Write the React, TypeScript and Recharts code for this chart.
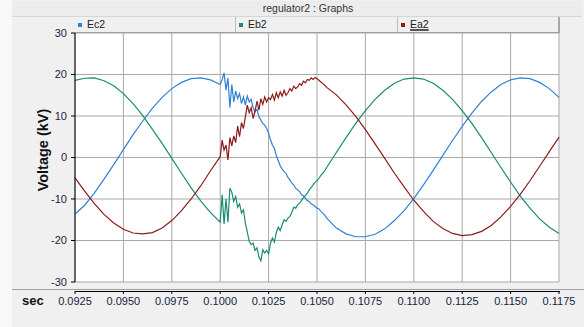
import { CartesianGrid, Line, LineChart, XAxis, YAxis } from 'recharts';

// sample times in seconds: 0.5 ms steps around the fault, 0.1 ms steps through it
const time = [
  0.0925, 0.093, 0.0935, 0.094, 0.0945, 0.095, 0.0955, 0.096, 0.0965, 0.097, 0.0975, 0.098, 0.0985, 0.099, 0.0995,
  0.1, 0.1001, 0.1002, 0.1003, 0.1004, 0.1005, 0.1006, 0.1007, 0.1008, 0.1009,
  0.101, 0.1011, 0.1012, 0.1013, 0.1014, 0.1015, 0.1016, 0.1017, 0.1018, 0.1019,
  0.102, 0.1021, 0.1022, 0.1023, 0.1024, 0.1025, 0.1026, 0.1027, 0.1028, 0.1029,
  0.103, 0.1031, 0.1032, 0.1033, 0.1034, 0.1035, 0.1036, 0.1037, 0.1038, 0.1039,
  0.104, 0.1041, 0.1042, 0.1043, 0.1044, 0.1045, 0.1046, 0.1047, 0.1048, 0.1049,
  0.105, 0.1051, 0.1052, 0.1053, 0.1054,
  0.1055, 0.106, 0.1065, 0.107, 0.1075, 0.108, 0.1085, 0.109, 0.1095, 0.11, 0.1105, 0.111, 0.1115,
  0.112, 0.1125, 0.113, 0.1135, 0.114, 0.1145, 0.115, 0.1155, 0.116, 0.1165, 0.117, 0.1175,
];

// phase voltages in kV
const ec2 = [
  -13.6, -11.5, -8.6, -5.2, -1.7, 1.9, 5.5, 8.8, 11.9, 14.5, 16.6, 18.1, 19.0, 19.2, 18.7,
  17.6, 18.8, 20.4, 16.2, 19.2, 12.0, 17.6, 13.4, 16.0, 14.2,
  15.4, 13.0, 14.6, 12.6, 14.8, 13.4, 14.0, 12.0, 11.0, 11.6,
  9.8, 9.0, 8.2, 7.8, 7.0, 5.8, 4.2, 3.0, 2.2, 0.4,
  -0.8, -2.0, -2.8, -3.4, -3.8, -4.8, -5.4, -6.2, -6.6, -7.4,
  -7.8, -8.2, -9.0, -9.2, -9.8, -10.4, -10.6, -11.2, -11.4, -11.8,
  -12.2, -12.4, -13.0, -13.4, -13.9,
  -14.6, -17.0, -18.4, -19.1, -19.1, -18.5, -17.2, -15.2, -12.8, -9.9, -6.6, -3.1, 0.5,
  4.1, 7.5, 10.7, 13.5, 15.8, 17.6, 18.7, 19.2, 19.0, 18.1, 16.6, 14.5,
];

const eb2 = [
  18.6, 19.1, 19.2, 18.5, 17.3, 15.4, 13.0, 10.1, 6.8, 3.4, -0.2, -3.8, -7.3, -10.5, -13.3,
  -15.6, -9.0, -16.0, -10.0, -15.6, -7.4, -8.4, -10.6, -9.4, -12.0,
  -11.2, -13.4, -12.6, -15.8, -18.0, -20.2, -21.0, -20.6, -22.4, -21.8,
  -24.0, -24.9, -22.2, -23.0, -22.4, -23.2, -20.6, -19.4, -20.4, -18.0,
  -16.8, -17.6, -16.2, -15.0, -15.4, -14.6, -14.2, -13.2, -12.0, -12.2,
  -11.4, -11.0, -10.4, -9.6, -9.2, -8.6, -7.8, -7.2, -6.6, -6.0,
  -5.6, -5.0, -4.3, -3.8, -3.2,
  -2.4, 1.2, 4.8, 8.2, 11.3, 14.0, 16.2, 17.9, 18.9, 19.2, 18.9, 17.9, 16.2,
  14.0, 11.3, 8.2, 4.8, 1.2, -2.4, -5.9, -9.3, -12.2, -14.8, -16.8, -18.3,
];

const ea2 = [
  -4.9, -8.1, -11.1, -13.7, -15.8, -17.3, -18.2, -18.4, -18.1, -17.0, -15.2, -12.8, -10.0, -6.8, -3.2,
  0.2, 4.2, 1.8, 3.0, -0.6, 4.8, 2.8, 5.2, 3.6, 7.6,
  5.0, 8.4, 7.0, 9.8, 12.6, 10.8, 12.0, 9.4, 11.2, 13.6,
  11.4, 14.2, 12.8, 14.6, 13.4, 14.4, 14.0, 15.2, 13.8, 15.6,
  14.4, 15.8, 14.8, 16.2, 15.0, 15.6, 16.6, 16.0, 17.2, 16.6,
  17.0, 17.8, 17.4, 18.4, 18.0, 18.8, 18.6, 19.2, 18.8, 19.3,
  19.0, 18.6, 18.2, 17.8, 17.4,
  16.9, 15.1, 12.7, 9.9, 6.7, 3.3, -0.2, -3.8, -7.1, -10.3, -13.0, -15.4, -17.1,
  -18.3, -18.8, -18.6, -17.8, -16.4, -14.3, -11.8, -8.9, -5.6, -2.1, 1.4, 4.9,
];

const timeTicks = [0.0925, 0.095, 0.0975, 0.1, 0.1025, 0.105, 0.1075, 0.11, 0.1125, 0.115, 0.1175];
const voltTicks = [-30, -20, -10, 0, 10, 20, 30];

const series = [
  { key: 'Ec2', color: '#2f80d8' },
  { key: 'Eb2', color: '#1b8b72' },
  { key: 'Ea2', color: '#8b1a1a' },
];

const rows = time.map((t, i) => ({ t, Ec2: ec2[i], Eb2: eb2[i], Ea2: ea2[i] }));

const FONT = '"Liberation Sans", Arial, sans-serif';
const LABEL = '#222244';

// x ticks sit on a separate axis strip below the plot
function TimeTick({ x, y, payload }: any) {
  return (
    <g>
      <line x1={x} x2={x} y1={y + 9} y2={y + 12} stroke="#000" />
      <text x={x} y={y + 23} textAnchor="middle" fontSize={11} fontFamily={FONT} fill={LABEL}>
        {Number(payload.value).toFixed(4)}
      </text>
    </g>
  );
}

const legendCells = [
  { left: 75, width: 161 },
  { left: 236, width: 162 },
  { left: 398, width: 161 },
];

export default function App() {
  return (
    <div
      style={{
        position: 'absolute',
        left: 0,
        top: 0,
        width: 584,
        height: 327,
        background: '#f0f0f0',
        fontFamily: FONT,
        overflow: 'hidden',
      }}
    >
      <div style={{ position: 'absolute', left: 0, top: 0, width: 12, height: 327, background: '#f8f8f8' }} />
      <div
        style={{
          position: 'absolute',
          left: 12,
          top: 1,
          width: 570,
          height: 15,
          background: '#ececec',
          borderBottom: '1px solid #d6d6d6',
          fontSize: 10.5,
          color: '#333',
          lineHeight: '15px',
        }}
      >
        <span style={{ position: 'absolute', left: 296, transform: 'translateX(-50%)', whiteSpace: 'nowrap' }}>
          regulator2 : Graphs
        </span>
      </div>

      <LineChart
        width={584}
        height={327}
        data={rows}
        margin={{ top: 33, right: 25, bottom: 15, left: 35 }}
        style={{ position: 'absolute', left: 0, top: 0 }}
      >
        <CartesianGrid stroke="#a8a8a8" fill="#ffffff" fillOpacity={1} />
        <XAxis
          dataKey="t"
          type="number"
          domain={[0.0925, 0.1175]}
          ticks={timeTicks}
          interval={0}
          height={30}
          axisLine={false}
          tickLine={false}
          tickSize={0}
          tickMargin={0}
          tick={<TimeTick />}
        />
        <YAxis
          type="number"
          domain={[-30, 30]}
          ticks={voltTicks}
          interval={0}
          width={40}
          tickSize={4}
          tickMargin={4}
          axisLine={{ stroke: '#000' }}
          tickLine={{ stroke: '#000' }}
          tick={{ fontSize: 11, fontFamily: FONT, fill: LABEL }}
        />
        {series.map((s) => (
          <Line
            key={s.key}
            type="linear"
            dataKey={s.key}
            stroke={s.color}
            strokeWidth={1.2}
            dot={false}
            isAnimationActive={false}
          />
        ))}
      </LineChart>

      {/* legend strip above the plot */}
      <div
        style={{
          position: 'absolute',
          left: 75,
          top: 17,
          width: 483,
          height: 15,
          background: '#f0f0f0',
          borderBottom: '1px solid #a0a0a0',
          borderRight: '2px solid #a8a8a8',
        }}
      />
      {series.map((s, i) => (
        <div
          key={s.key}
          style={{
            position: 'absolute',
            left: legendCells[i].left,
            top: 17,
            width: legendCells[i].width,
            height: 15,
            borderRight: i < 2 ? '1px solid #bdbdbd' : 'none',
            boxSizing: 'border-box',
          }}
        >
          <span
            style={{
              position: 'absolute',
              left: 3,
              top: 6,
              width: 4,
              height: 4,
              background: s.color,
            }}
          />
          <span
            style={{
              position: 'absolute',
              left: 12,
              top: 1,
              fontSize: 10.5,
              lineHeight: '13px',
              color: '#222',
              textDecoration: s.key === 'Ea2' ? 'underline' : 'none',
              textDecorationColor: '#555',
              textDecorationThickness: 2,
            }}
          >
            {s.key}
          </span>
        </div>
      ))}

      {/* separator and time axis line */}
      <div style={{ position: 'absolute', left: 12, top: 289, width: 572, height: 1, background: '#a0a0a0' }} />
      <div style={{ position: 'absolute', left: 75, top: 291, width: 485, height: 1, background: '#000' }} />

      <div
        style={{
          position: 'absolute',
          left: 43,
          top: 150,
          transform: 'translate(-50%, -50%) rotate(-90deg)',
          whiteSpace: 'nowrap',
          fontWeight: 'bold',
          fontSize: 14.5,
          color: '#111',
        }}
      >
        Voltage (kV)
      </div>
      <div
        style={{
          position: 'absolute',
          left: 22,
          top: 294,
          fontWeight: 'bold',
          fontSize: 13,
          lineHeight: '14px',
          color: '#111',
        }}
      >
        sec
      </div>
    </div>
  );
}
